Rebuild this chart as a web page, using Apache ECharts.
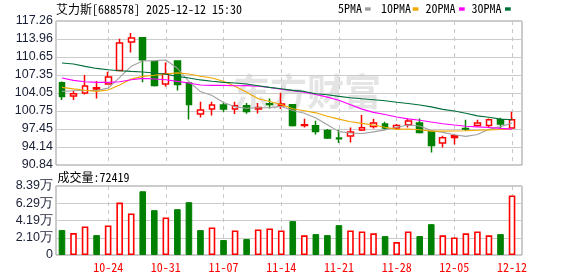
<!DOCTYPE html>
<html><head><meta charset="utf-8">
<script src="https://cdn.jsdelivr.net/npm/echarts@6/dist/echarts.min.js"></script>
<style>html,body{margin:0;padding:0;background:#fff}#c{width:578px;height:276px}</style>
</head><body><div id="c"></div>
<script>
const dates = ['10-20','10-21','10-22','10-23','10-24','10-27','10-28','10-29','10-30','10-31','11-03','11-04','11-05','11-06','11-07','11-10','11-11','11-12','11-13','11-14','11-17','11-18','11-19','11-20','11-21','11-24','11-25','11-26','11-27','11-28','12-01','12-02','12-03','12-04','12-05','12-08','12-09','12-10','12-11','12-12'];
const opens  = [105.94,103.50,104.05,104.78,105.70,108.20,113.41,114.20,109.79,105.70,109.92,105.88,100.20,101.11,101.85,101.11,101.72,101.11,102.09,101.72,101.90,98.11,98.05,97.19,95.79,96.16,97.26,97.92,98.36,97.63,98.23,98.55,96.95,94.88,96.22,97.55,98.11,98.11,99.15,97.63];
const closes = [103.43,103.92,105.33,105.02,106.99,113.22,114.14,110.16,105.44,107.59,105.63,101.96,100.93,101.85,101.11,101.72,100.67,101.41,101.96,102.03,98.11,98.23,97.00,95.79,95.67,96.89,97.68,98.55,97.63,98.11,98.91,96.82,94.44,95.85,95.90,97.44,98.55,99.15,98.36,99.15];
const lows   = [102.77,102.77,103.79,103.06,105.57,108.10,111.50,106.00,105.26,105.26,104.53,99.21,99.57,99.94,100.62,100.20,100.25,100.31,101.22,101.11,97.92,97.74,96.45,95.61,94.88,94.99,97.08,97.55,97.32,97.26,97.74,96.64,93.15,94.07,94.62,97.13,97.92,97.74,97.55,97.63];
const highs  = [106.18,104.47,107.35,106.25,107.96,114.01,115.06,114.20,109.79,109.66,110.00,106.00,102.45,102.45,102.22,102.45,102.22,102.22,103.06,104.11,101.90,99.33,98.97,97.44,97.32,97.74,100.01,99.33,98.78,98.36,99.33,99.39,96.95,96.22,96.22,99.15,99.15,99.39,99.52,100.62];
const ma5  = [104.35,104.45,104.5,104.5,104.94,106.90,108.94,109.91,109.99,110.11,108.59,106.16,104.31,103.59,102.30,101.51,101.26,101.35,101.37,101.56,100.84,100.35,99.47,98.23,96.96,96.72,96.61,96.92,97.28,97.77,98.18,98.00,97.18,96.83,96.38,96.09,96.44,97.38,97.88,98.53];
const ma10 = [105.08,104.8,104.55,104.35,104.6,105.5,106.6,107.1,107.3,107.55,107.74,107.55,107.11,106.79,106.2,105.3,104.2,103.0,102.5,101.93,101.17,100.8,100.41,99.8,99.26,98.78,98.48,98.19,97.76,97.37,97.45,97.31,97.05,97.06,97.08,97.13,97.22,97.28,97.35,97.46];
const ma20 = [106.80,106.36,106.12,106.0,106.0,106.12,106.49,106.73,106.62,106.49,106.18,105.88,105.52,105.44,105.44,105.39,105.40,105.30,105.05,104.73,104.45,104.18,103.76,103.29,102.73,101.91,101.09,100.50,100.11,99.65,99.30,99.05,98.72,98.42,98.17,97.96,97.84,97.73,97.56,97.42];
const ma30 = [109.55,109.37,108.93,108.56,108.32,108.14,108.01,107.90,107.72,107.5,107.1,106.8,106.45,106.2,106.0,105.88,105.70,105.39,105.08,104.84,104.53,104.34,103.92,103.74,103.43,103.19,103.0,102.82,102.64,102.35,102.12,101.85,101.50,101.05,100.75,100.35,99.85,99.6,99.25,99.15];
const volumes = [30300,26600,34700,24200,36000,63800,50500,77500,54500,45600,55700,64200,30300,33500,18200,29900,19400,31100,32300,29900,41200,23900,25400,24200,36300,29900,28700,26300,23000,15700,28700,23000,37500,23900,21400,26300,28700,23900,25400,72419];
const volUp = [0,1,1,0,1,1,1,0,0,1,0,0,0,1,0,1,0,1,1,1,0,1,0,0,0,1,1,1,0,1,1,0,0,1,1,1,1,1,0,1];
const solidRedCandles = [34];
const priceTickLabels = ['90.84','94.14','97.45','100.75','104.05','107.35','110.65','113.96','117.26'];
const volTickLabels = ['0','2.10万','4.19万','6.29万','8.39万'];
const priceMin = 90.84, priceMax = 117.26;
const volMin = 0, volMax = 83900;
const titleText = '艾力斯[688578] 2025-12-12 15:30';
const volTitle = '成交量:72419';
const legendNames = ['5PMA','10PMA','20PMA','30PMA'];

const RED = '#ff0000', GREEN = '#008000';
const maColors = ['#a0a0a0','#f0a800','#ff00ff','#006f3a'];
const MONO = "'Noto Sans Mono CJK SC','Noto Sans CJK SC','DejaVu Sans Mono',monospace";
const NUM = "'Liberation Sans',Arial,sans-serif";

const priceStep = (priceMax - priceMin) / (priceTickLabels.length - 1);
const volStep = (volMax - volMin) / (volTickLabels.length - 1);
const labelEvery = (i) => i % 5 === 4;

const candleData = dates.map((d, i) => {
  const item = { value: [opens[i], closes[i], lows[i], highs[i]] };
  if (solidRedCandles.includes(i)) item.itemStyle = { color: RED, color0: RED, borderColor: RED, borderColor0: RED };
  return item;
});
const volData = volumes.map((v, i) => ({
  value: v,
  itemStyle: volUp[i] ? { color: '#ffffff', borderColor: RED, borderWidth: 1.6 } : { color: GREEN, borderColor: GREEN, borderWidth: 1 }
}));

const xDash = { show: true, alignWithLabel: true, interval: labelEvery, lineStyle: { color: '#c8c8c8', type: [4, 4], width: 1 } };
const frameX = (g) => ({ gridIndex: g, type: 'category', data: dates, show: false });

const chart = echarts.init(document.getElementById('c'), null, { renderer: 'canvas' });
chart.setOption({
  animation: false,
  backgroundColor: '#ffffff',
  grid: [
    { left: 56, width: 466, top: 21, height: 144, show: true, borderColor: '#999', borderWidth: 1, outerBoundsMode: 'none' },
    { left: 56.2, width: 461.6, top: 21, height: 144, outerBoundsMode: 'none' },
    { left: 56, width: 466, top: 186, height: 69, show: true, borderColor: '#999', borderWidth: 1, outerBoundsMode: 'none' },
    { left: 56.2, width: 461.6, top: 186, height: 69, outerBoundsMode: 'none' }
  ],
  xAxis: [
    frameX(0),
    { gridIndex: 1, type: 'category', data: dates, boundaryGap: true, axisLine: { show: false }, axisTick: { show: false }, axisLabel: { show: false }, splitLine: xDash },
    frameX(2),
    { gridIndex: 3, type: 'category', data: dates, boundaryGap: true, axisLine: { show: false }, axisTick: { show: false },
      axisLabel: { show: true, interval: labelEvery, color: RED, fontFamily: MONO, fontSize: 12, margin: 6 }, splitLine: xDash }
  ],
  yAxis: [
    { gridIndex: 0, type: 'value', min: priceMin, max: priceMax, interval: priceStep, axisLine: { show: false }, axisTick: { show: false },
      axisLabel: { margin: 3, color: '#1a2035', fontFamily: NUM, fontSize: 12.5, formatter: (v) => priceTickLabels[Math.round((v - priceMin) / priceStep)] },
      splitLine: { show: true, lineStyle: { color: '#cccccc', width: 1 } } },
    { gridIndex: 1, type: 'value', min: priceMin, max: priceMax, show: false },
    { gridIndex: 2, type: 'value', min: volMin, max: volMax, interval: volStep, axisLine: { show: false }, axisTick: { show: false },
      axisLabel: { margin: 3, color: '#1a2035', fontFamily: NUM, fontSize: 12.5, formatter: (v) => volTickLabels[Math.round((v - volMin) / volStep)] },
      splitLine: { show: true, lineStyle: { color: '#cccccc', width: 1 } } },
    { gridIndex: 3, type: 'value', min: volMin, max: volMax, show: false }
  ],
  series: [
    { type: 'candlestick', xAxisIndex: 1, yAxisIndex: 1, barWidth: 6.3, data: candleData, z: 3,
      itemStyle: { color: '#ffffff', color0: GREEN, borderColor: RED, borderColor0: GREEN, borderWidth: 1.5 } },
    ...[ma5, ma10, ma20, ma30].map((arr, k) => ({
      type: 'line', name: legendNames[k], xAxisIndex: 1, yAxisIndex: 1, data: arr, showSymbol: false, symbol: 'none', z: 4,
      lineStyle: { color: maColors[k], width: 1.1 }, silent: true
    })),
    { type: 'bar', xAxisIndex: 3, yAxisIndex: 3, barWidth: 6.6, data: volData, z: 3 }
  ],
  graphic: [
    { type: 'text', x: 233, y: 92, z: -5, style: { text: '东方财富', fontSize: 37, fontWeight: 'bold', fontFamily: "'Noto Sans CJK SC'", fill: '#e4e4e4', textVerticalAlign: 'middle' } },
    { type: 'text', x: 56, y: 9, style: { text: titleText, fontSize: 12, fontFamily: MONO, fill: '#000', textVerticalAlign: 'middle' } },
    { type: 'text', x: 57.5, y: 177, style: { text: volTitle, fontSize: 12, fontFamily: MONO, fill: '#000', textVerticalAlign: 'middle' } },
    ...[338, 381, 425.5, 471.5].flatMap((lx, k) => [
      { type: 'text', x: lx, y: 8.5, style: { text: legendNames[k], fontSize: 12, fontFamily: MONO, fill: '#000', textVerticalAlign: 'middle' } },
      { type: 'rect', shape: { x: [365, 412.7, 459, 505][k], y: 7.3, width: 5.7, height: 3.4 }, style: { fill: maColors[k] } }
    ])
  ]
});
</script>
</body></html>
